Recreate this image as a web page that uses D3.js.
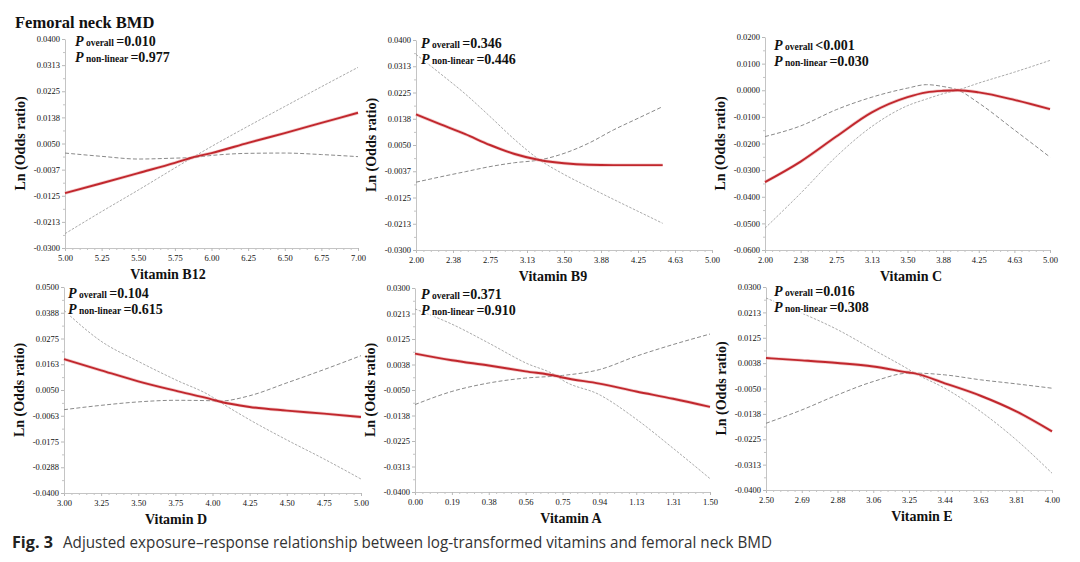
<!DOCTYPE html>
<html><head><meta charset="utf-8">
<script src="https://cdn.jsdelivr.net/npm/d3@7"></script>
<style>body{margin:0;background:#fff}svg{display:block}</style>
</head><body>
<svg id="chart" width="1080" height="562"></svg>
<script>
// ---------- DATA ----------
const figTitle = "Femoral neck BMD";
const captionBold = "Fig. 3";
const captionText = "Adjusted exposure\u2013response relationship between log-transformed vitamins and femoral neck BMD";
const yAxisTitle = "Ln (Odds ratio)";

// Panel 1 : Vitamin B12
const b12Name = "Vitamin B12";
const b12P = ["=0.010", "=0.977"];
const b12XTicks = [5.00, 5.25, 5.50, 5.75, 6.00, 6.25, 6.50, 6.75, 7.00];
const b12XLabels = ["5.00","5.25","5.50","5.75","6.00","6.25","6.50","6.75","7.00"];
const b12YTicks = [0.04, 0.03125, 0.0225, 0.01375, 0.005, -0.00375, -0.0125, -0.02125, -0.03];
const b12YLabels = ["0.0400","0.0313","0.0225","0.0138","0.0050","-0.0037","-0.0125","-0.0213","-0.0300"];
const b12X   = [5.00, 5.25, 5.50, 5.75, 5.87, 6.00, 6.25, 6.50, 6.75, 7.00];
const b12Est = [-0.0116, -0.0083, -0.0049, -0.0015, 0.0003, 0.0018, 0.0052, 0.0085, 0.0119, 0.0153];
const b12CiA = [-0.0252, -0.0178, -0.0106, -0.0032, 0.0003, 0.0040, 0.0108, 0.0174, 0.0240, 0.0305];
const b12CiB = [0.0018, 0.0007, -0.0002, 0.0001, 0.0003, 0.0010, 0.0017, 0.0018, 0.0013, 0.0006];

// Panel 2 : Vitamin B9
const b9Name = "Vitamin B9";
const b9P = ["=0.346", "=0.446"];
const b9XTicks = [2.00, 2.375, 2.75, 3.125, 3.50, 3.875, 4.25, 4.625, 5.00];
const b9XLabels = ["2.00","2.38","2.75","3.13","3.50","3.88","4.25","4.63","5.00"];
const b9YTicks = b12YTicks;
const b9YLabels = b12YLabels;
const b9X   = [2.00, 2.25, 2.50, 2.75, 3.00, 3.25, 3.50, 3.75, 4.00, 4.25, 4.50];
const b9Est = [0.0152, 0.0119, 0.0086, 0.0050, 0.0020, 0.0000, -0.0011, -0.0016, -0.0017, -0.0017, -0.0017];
const b9CiA = [0.0352, 0.0287, 0.0220, 0.0145, 0.0068, 0.0001, -0.0048, -0.0090, -0.0131, -0.0171, -0.0211];
const b9CiB = [-0.0074, -0.0056, -0.0039, -0.0022, -0.0009, 0.0000, 0.0022, 0.0056, 0.0100, 0.0139, 0.0178];

// Panel 3 : Vitamin C
const cName = "Vitamin C";
const cP = ["<0.001", "=0.030"];
const cXTicks = b9XTicks;
const cXLabels = b9XLabels;
const cYTicks = [0.02, 0.01, 0.0, -0.01, -0.02, -0.03, -0.04, -0.05, -0.06];
const cYLabels = ["0.0200","0.0100","0.0000","-0.0100","-0.0200","-0.0300","-0.0400","-0.0500","-0.0600"];
const cX   = [2.00, 2.375, 2.75, 3.125, 3.50, 3.70, 3.875, 4.03, 4.25, 4.625, 5.00];
const cEst = [-0.0345, -0.0268, -0.0174, -0.0083, -0.0026, -0.0008, -0.0002, 0.0000, -0.0008, -0.0036, -0.0071];
const cCiA = [-0.0518, -0.0387, -0.0249, -0.0136, -0.0058, -0.0033, -0.0013, 0.0001, 0.0027, 0.0068, 0.0112];
const cCiB = [-0.0174, -0.0134, -0.0073, -0.0026, 0.0008, 0.0021, 0.0014, 0.0001, -0.0048, -0.0149, -0.0251];

// Panel 4 : Vitamin D
const dName = "Vitamin D";
const dP = ["=0.104", "=0.615"];
const dXTicks = [3.00, 3.25, 3.50, 3.75, 4.00, 4.25, 4.50, 4.75, 5.00];
const dXLabels = ["3.00","3.25","3.50","3.75","4.00","4.25","4.50","4.75","5.00"];
const dYTicks = [0.05, 0.03875, 0.0275, 0.01625, 0.005, -0.00625, -0.0175, -0.02875, -0.04];
const dYLabels = ["0.0500","0.0388","0.0275","0.0163","0.0050","-0.0063","-0.0175","-0.0288","-0.0400"];
const dX   = [3.00, 3.25, 3.50, 3.75, 4.00, 4.04, 4.25, 4.50, 4.75, 5.00];
const dEst = [0.0185, 0.0136, 0.0088, 0.0047, 0.0008, 0.0001, -0.0024, -0.0040, -0.0053, -0.0068];
const dCiA = [0.0398, 0.0263, 0.0175, 0.0095, 0.0019, 0.0002, -0.0080, -0.0168, -0.0251, -0.0339];
const dCiB = [-0.0036, -0.0017, -0.0002, 0.0005, 0.0003, 0.0001, 0.0025, 0.0081, 0.0139, 0.0200];

// Panel 5 : Vitamin A
const aName = "Vitamin A";
const aP = ["=0.371", "=0.910"];
const aXTicks = [0.00, 0.1875, 0.375, 0.5625, 0.75, 0.9375, 1.125, 1.3125, 1.50];
const aXLabels = ["0.00","0.19","0.38","0.56","0.75","0.94","1.13","1.31","1.50"];
const aYTicks = [0.03, 0.02125, 0.0125, 0.00375, -0.005, -0.01375, -0.0225, -0.03125, -0.04];
const aYLabels = ["0.0300","0.0213","0.0125","0.0038","-0.0050","-0.0138","-0.0225","-0.0313","-0.0400"];
const aX   = [0.00, 0.1875, 0.375, 0.5625, 0.72, 0.75, 0.9375, 1.125, 1.3125, 1.50];
const aEst = [0.0075, 0.0052, 0.0034, 0.0014, -0.0002, -0.0007, -0.0028, -0.0055, -0.0080, -0.0108];
const aCiA = [0.0228, 0.0176, 0.0111, 0.0043, -0.0002, -0.0016, -0.0066, -0.0150, -0.0250, -0.0354];
const aCiB = [-0.0100, -0.0055, -0.0026, -0.0009, -0.0002, 0.0000, 0.0020, 0.0066, 0.0106, 0.0142];

// Panel 6 : Vitamin E
const eName = "Vitamin E";
const eP = ["=0.016", "=0.308"];
const eXTicks = [2.50, 2.6875, 2.875, 3.0625, 3.25, 3.4375, 3.625, 3.8125, 4.00];
const eXLabels = ["2.50","2.69","2.88","3.06","3.25","3.44","3.63","3.81","4.00"];
const eYTicks = aYTicks;
const eYLabels = aYLabels;
const eX   = [2.50, 2.6875, 2.875, 3.0625, 3.25, 3.28, 3.4375, 3.625, 3.8125, 4.00];
const eEst = [0.0055, 0.0047, 0.0038, 0.0026, 0.0005, 0.0002, -0.0032, -0.0075, -0.0129, -0.0198];
const eCiA = [0.0262, 0.0210, 0.0153, 0.0084, 0.0015, 0.0003, -0.0049, -0.0129, -0.0227, -0.0342];
const eCiB = [-0.0170, -0.0124, -0.0072, -0.0026, 0.0003, 0.0003, -0.0003, -0.0020, -0.0034, -0.0049];

// ---------- LAYOUT ----------
const layout = [
  {L:65,  R:358,  T:39,  B:248, tx:168, px:75,  py:46},
  {L:416, R:712,  T:40,  B:250, tx:553, px:421, py:48},
  {L:765, R:1050, T:37,  B:250, tx:911, px:774, py:50},
  {L:64,  R:361,  T:287, B:493, tx:176, px:68,  py:298},
  {L:415, R:710,  T:288, B:492, tx:571, px:421, py:299},
  {L:766, R:1052, T:287, B:490, tx:922, px:774, py:296}
];

const panels = [
  {name:b12Name, p:b12P, xt:b12XTicks, xl:b12XLabels, yt:b12YTicks, yl:b12YLabels, x:b12X, est:b12Est, ciA:b12CiA, ciB:b12CiB},
  {name:b9Name,  p:b9P,  xt:b9XTicks,  xl:b9XLabels,  yt:b9YTicks,  yl:b9YLabels,  x:b9X,  est:b9Est,  ciA:b9CiA,  ciB:b9CiB},
  {name:cName,   p:cP,   xt:cXTicks,   xl:cXLabels,   yt:cYTicks,   yl:cYLabels,   x:cX,   est:cEst,   ciA:cCiA,   ciB:cCiB},
  {name:dName,   p:dP,   xt:dXTicks,   xl:dXLabels,   yt:dYTicks,   yl:dYLabels,   x:dX,   est:dEst,   ciA:dCiA,   ciB:dCiB},
  {name:aName,   p:aP,   xt:aXTicks,   xl:aXLabels,   yt:aYTicks,   yl:aYLabels,   x:aX,   est:aEst,   ciA:aCiA,   ciB:aCiB},
  {name:eName,   p:eP,   xt:eXTicks,   xl:eXLabels,   yt:eYTicks,   yl:eYLabels,   x:eX,   est:eEst,   ciA:eCiA,   ciB:eCiB}
];

const svg = d3.select("#chart");
const serif = "'Liberation Serif','Times New Roman',serif";
const sans = "'Open Sans','Noto Sans',sans-serif";

svg.append("text").attr("x", 15).attr("y", 28)
  .attr("font-family", serif).attr("font-weight", "bold").attr("font-size", 16.5)
  .attr("fill", "#111").text(figTitle);

panels.forEach((p, i) => {
  const lo = layout[i];
  const x = d3.scaleLinear().domain([p.xt[0], p.xt[p.xt.length-1]]).range([lo.L, lo.R]);
  const y = d3.scaleLinear().domain([p.yt[p.yt.length-1], p.yt[0]]).range([lo.B, lo.T]);
  const g = svg.append("g");

  // minor ticks
  const minor = [];
  for (let k = 0; k < p.xt.length - 1; k++) {
    const st = (p.xt[k+1] - p.xt[k]) / 5;
    for (let m = 1; m < 5; m++) minor.push(p.xt[k] + m*st);
  }
  g.append("g").attr("transform", `translate(0,${lo.B})`)
    .call(d3.axisBottom(x).tickValues(minor).tickSize(2).tickFormat(""))
    .call(s => { s.select(".domain").remove(); s.selectAll("line").attr("stroke", "#c4c4c4"); });
  const yMinor = [];
  for (let k = 0; k < p.yt.length - 1; k++) {
    const st = (p.yt[k+1] - p.yt[k]) / 2;
    yMinor.push(p.yt[k] + st);
  }
  g.append("g").attr("transform", `translate(${lo.L},0)`)
    .call(d3.axisLeft(y).tickValues(yMinor).tickSize(2).tickFormat(""))
    .call(s => { s.select(".domain").remove(); s.selectAll("line").attr("stroke", "#c4c4c4"); });

  const xa = g.append("g").attr("transform", `translate(0,${lo.B})`)
    .call(d3.axisBottom(x).tickValues(p.xt).tickSize(3).tickSizeOuter(0).tickPadding(4)
      .tickFormat((d, j) => p.xl[j]));
  const ya = g.append("g").attr("transform", `translate(${lo.L},0)`)
    .call(d3.axisLeft(y).tickValues(p.yt).tickSize(3).tickSizeOuter(0).tickPadding(2)
      .tickFormat((d, j) => p.yl[j]));
  [xa, ya].forEach(a => {
    a.attr("font-family", serif);
    a.select(".domain").attr("stroke", "#c4c4c4");
    a.selectAll(".tick line").attr("stroke", "#b8b8b8");
    a.selectAll(".tick text").attr("font-family", serif).attr("font-size", 8.5).attr("fill", "#111");
  });

  const pts = k => p.x.map((v, j) => [v, p[k][j]]);
  const line = d3.line().x(d => x(d[0])).y(d => y(d[1])).curve(d3.curveMonotoneX);

  g.append("path").attr("d", line(pts("ciA"))).attr("fill", "none")
    .attr("stroke", "#a0a0a0").attr("stroke-width", 0.9).attr("stroke-dasharray", "2.5,1.5");
  g.append("path").attr("d", line(pts("ciB"))).attr("fill", "none")
    .attr("stroke", "#8a8a8a").attr("stroke-width", 1).attr("stroke-dasharray", "4,2.2");
  g.append("path").attr("d", line(pts("est"))).attr("fill", "none")
    .attr("stroke", "#eaa0a0").attr("stroke-width", 3.4).attr("opacity", 0.55);
  g.append("path").attr("d", line(pts("est"))).attr("fill", "none")
    .attr("stroke", "#c1272d").attr("stroke-width", 1.9);

  // P-value annotations
  const labels = ["overall", "non-linear"];
  labels.forEach((lab, j) => {
    const val = p.p[j];
    const t = g.append("text").attr("x", lo.px).attr("y", lo.py + j*16)
      .attr("font-family", serif).attr("font-weight", "bold").attr("fill", "#111")
      .attr("stroke", "#fff").attr("stroke-width", 3).attr("paint-order", "stroke");
    t.append("tspan").attr("font-style", "italic").attr("font-size", 14).text("P");
    t.append("tspan").attr("font-size", 9.5).text(" " + lab + " ");
    t.append("tspan").attr("font-size", 14).text(val);
  });

  // axis titles
  g.append("text").attr("x", lo.tx).attr("y", lo.B + 31).attr("text-anchor", "middle")
    .attr("font-family", serif).attr("font-weight", "bold").attr("font-size", 14).attr("fill", "#111")
    .text(p.name);
  g.append("text")
    .attr("transform", `translate(${lo.L - 40},${(lo.T + lo.B)/2}) rotate(-90)`)
    .attr("text-anchor", "middle")
    .attr("font-family", serif).attr("font-weight", "bold").attr("font-size", 14).attr("fill", "#111")
    .text(yAxisTitle);
});

svg.append("text").attr("x", 12).attr("y", 548)
  .attr("font-family", sans).attr("font-weight", "bold").attr("font-size", 15.5).attr("fill", "#222")
  .attr("textLength", 41).attr("lengthAdjust", "spacingAndGlyphs").text(captionBold);
svg.append("text").attr("x", 63).attr("y", 548)
  .attr("font-family", sans).attr("font-size", 15.5).attr("fill", "#333")
  .attr("textLength", 709).attr("lengthAdjust", "spacingAndGlyphs").text(captionText);
</script>
</body></html>
